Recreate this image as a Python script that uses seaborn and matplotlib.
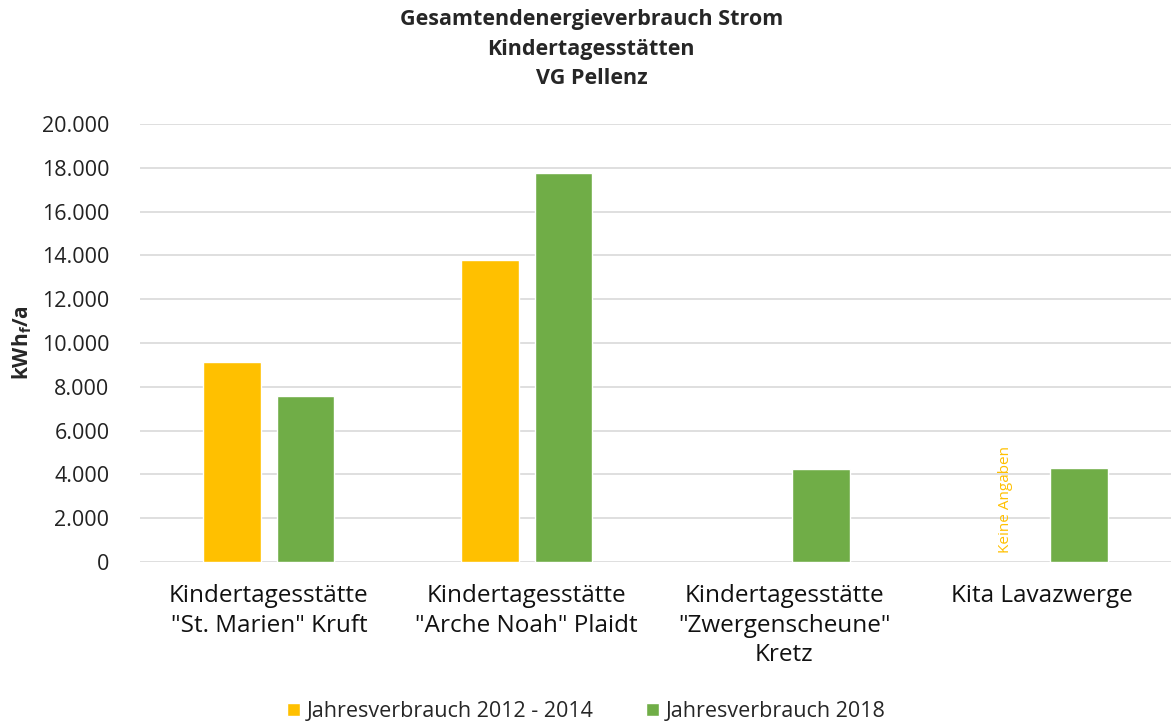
import pandas as pd
import seaborn as sns
import matplotlib.pyplot as plt

categories = [
    'Kindertagesstätte\n"St. Marien" Kruft',
    'Kindertagesstätte\n"Arche Noah" Plaidt',
    'Kindertagesstätte\n"Zwergenscheune"\nKretz',
    "Kita Lavazwerge",
]
series = ["Jahresverbrauch 2012 - 2014", "Jahresverbrauch 2018"]
verbrauch_2012_2014 = [9130, 13800, None, None]
verbrauch_2018 = [7560, 17750, 4260, 4290]
y_ticks = list(range(0, 20001, 2000))
y_tick_labels = ["0" if t == 0 else f"{t // 1000}.000" for t in y_ticks]

df = pd.DataFrame({
    "kita": categories * 2,
    "serie": [series[0]] * 4 + [series[1]] * 4,
    "wert": verbrauch_2012_2014 + verbrauch_2018,
})

sns.set_style("white")
plt.rcParams["font.family"] = ["Open Sans", "DejaVu Sans"]

fig = plt.figure(figsize=(11.71, 7.27), dpi=100)
ax = fig.add_axes([140 / 1171, 1 - 562 / 727, 1031 / 1171, 438 / 727])

sns.barplot(
    df, x="kita", y="wert", hue="serie",
    palette=["#FFC000", "#70AD47"], saturation=1, width=0.57, gap=0.22,
    order=categories, hue_order=series, ax=ax, legend=True,
)

ax.set_ylim(0, 20000)
ax.set_xlim(-0.5, 3.5)
ax.set_yticks(y_ticks)
ax.set_yticklabels(y_tick_labels, fontsize=15.5, color="#222222")
ax.tick_params(axis="x", labelsize=17.5, colors="#111111", length=0, pad=16)
ax.tick_params(axis="y", length=0, pad=22)
for lbl in ax.get_xticklabels():
    lbl.set_linespacing(1.3)
ax.yaxis.grid(True, color="#D9D9D9", linewidth=1.2)
ax.set_axisbelow(True)
for s in ax.spines.values():
    s.set_visible(False)
ax.set_xlabel("")
ax.set_ylabel("kWh$_\\mathregular{f}$/a", fontsize=15, fontweight="bold", labelpad=6)

ax.text(3 - 0.142, 400, "Keine Angaben", rotation=90, color="#FFC000",
        fontsize=11, ha="center", va="bottom")

fig.text(0.505, 0.988, "Gesamtendenergieverbrauch Strom\nKindertagesstätten\nVG Pellenz",
         ha="center", va="top", fontsize=15.5, fontweight="bold", linespacing=1.55)

ax.legend(loc="lower center", bbox_to_anchor=(0.433, -0.41), ncol=2, frameon=False,
          fontsize=15.5, handlelength=0.6, handleheight=0.6, handletextpad=0.35,
          columnspacing=2.4)

fig.savefig("out.png", dpi=100)
